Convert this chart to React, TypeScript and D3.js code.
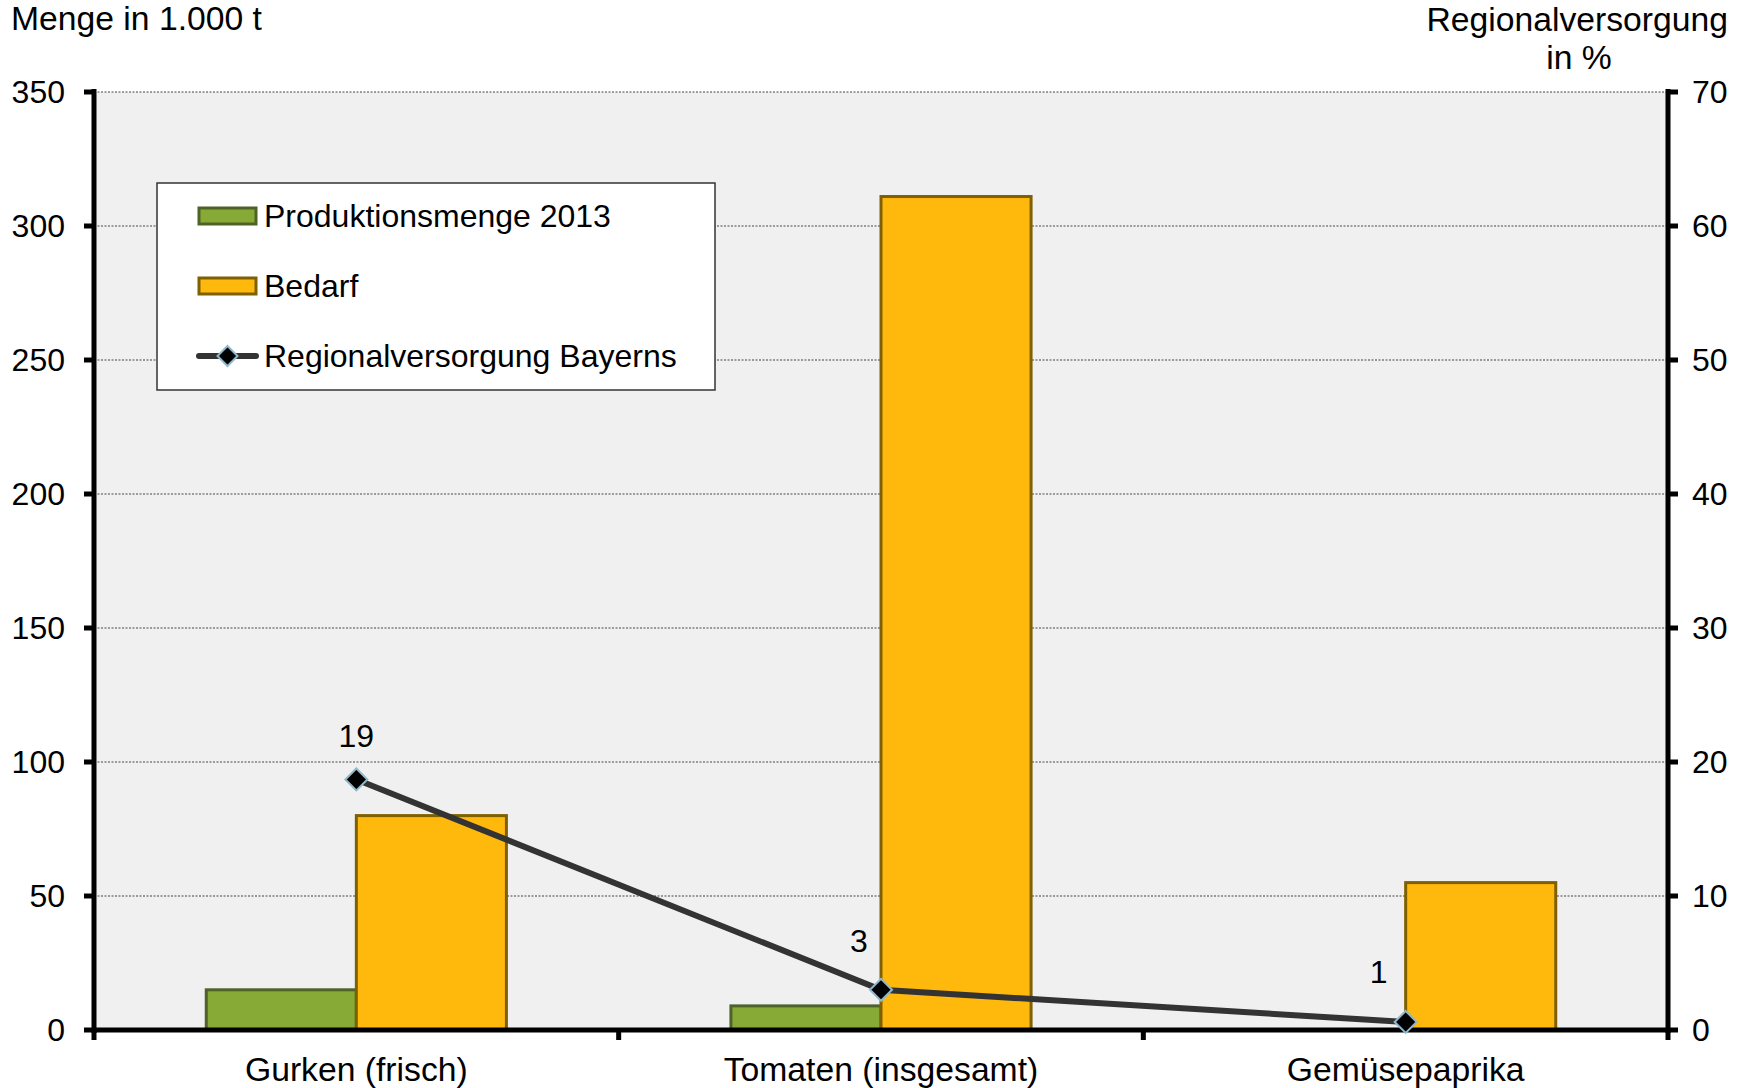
import React from "react";
import * as d3 from "d3";

const categories = ["Gurken (frisch)", "Tomaten (insgesamt)", "Gemüsepaprika"];
const production2013 = [15, 9, 0];
const demand = [80, 311, 55];
const regionalShare = [18.7, 3.0, 0.6];
const leftTicks = [0, 50, 100, 150, 200, 250, 300, 350];
const rightTicks = [0, 10, 20, 30, 40, 50, 60, 70];
const seriesNames = ["Produktionsmenge 2013", "Bedarf", "Regionalversorgung Bayerns"];
const labelOffsets = [[0, -32], [-22, -38], [-27, -39]];

const W = 1746, H = 1088;
const M = { left: 94, right: 1668, top: 92, bottom: 1030 };
const FONT = "'Liberation Sans', Arial, sans-serif";
const GREEN = "#86aa35", GREEN_S = "#4f6228";
const ORANGE = "#ffb80c", ORANGE_S = "#7f6000";

export default function App() {
  const x = d3.scaleBand<string>().domain(categories).range([M.left, M.right]).padding(0);
  const inner = d3.scaleBand<string>().domain(["p", "d"]).range([0, x.bandwidth()]).paddingInner(0).paddingOuter(0.748);
  const yL = d3.scaleLinear().domain([0, 350]).range([M.bottom, M.top]);
  const yR = d3.scaleLinear().domain([0, 70]).range([M.bottom, M.top]);
  const cx = (c: string) => (x(c) as number) + x.bandwidth() / 2;
  const line = d3.line<number>().x((_, i) => cx(categories[i])).y((v) => yR(v));
  const fmt = d3.format(".0f");
  const boundaries = [M.left, ...categories.map((c) => (x(c) as number) + x.bandwidth())];

  const diamond = (px: number, py: number, r: number) =>
    `M${px},${py - r}L${px + r},${py}L${px},${py + r}L${px - r},${py}Z`;

  return (
    <div style={{ position: "fixed", left: 0, top: 0, width: W, height: H, background: "#fff" }}>
      <svg width={W} height={H} style={{ display: "block" }} fontFamily={FONT} fill="#000">
        <rect x={M.left} y={M.top} width={M.right - M.left} height={M.bottom - M.top} fill="#f0f0f0" />
        {leftTicks.slice(1).map((t) => (
          <line key={t} x1={M.left} x2={M.right} y1={yL(t)} y2={yL(t)} stroke="#444" strokeWidth={1} strokeDasharray="2,1.5" />
        ))}
        {categories.map((c, i) => (
          <g key={c}>
            <rect x={(x(c) as number) + (inner("p") as number)} y={yL(production2013[i])} width={inner.bandwidth()}
              height={M.bottom - yL(production2013[i])} fill={GREEN} stroke={GREEN_S} strokeWidth={3}
              visibility={production2013[i] > 0 ? "visible" : "hidden"} />
            <rect x={(x(c) as number) + (inner("d") as number)} y={yL(demand[i])} width={inner.bandwidth()}
              height={M.bottom - yL(demand[i])} fill={ORANGE} stroke={ORANGE_S} strokeWidth={3} />
          </g>
        ))}
        {/* axes */}
        <line x1={M.left} x2={M.left} y1={M.top - 3} y2={M.bottom + 3} stroke="#000" strokeWidth={5} />
        <line x1={M.right} x2={M.right} y1={M.top - 3} y2={M.bottom + 3} stroke="#000" strokeWidth={5} />
        <line x1={M.left} x2={M.right} y1={M.bottom} y2={M.bottom} stroke="#000" strokeWidth={5} />
        {leftTicks.map((t) => (
          <g key={"l" + t}>
            <line x1={M.left - 10} x2={M.left} y1={yL(t)} y2={yL(t)} stroke="#000" strokeWidth={5} />
            <text x={65} y={yL(t) + 11} textAnchor="end" fontSize={32}>{t}</text>
          </g>
        ))}
        {rightTicks.map((t) => (
          <g key={"r" + t}>
            <line x1={M.right} x2={M.right + 10} y1={yR(t)} y2={yR(t)} stroke="#000" strokeWidth={5} />
            <text x={1692} y={yR(t) + 11} textAnchor="start" fontSize={32}>{t}</text>
          </g>
        ))}
        {boundaries.map((b, i) => (
          <line key={"b" + i} x1={b} x2={b} y1={M.bottom} y2={M.bottom + 10} stroke="#000" strokeWidth={5} />
        ))}
        {categories.map((c) => (
          <text key={"c" + c} x={cx(c)} y={1081} textAnchor="middle" fontSize={33.7}>{c}</text>
        ))}
        {/* line */}
        <path d={line(regionalShare) || ""} fill="none" stroke="#333333" strokeWidth={6} />
        {regionalShare.map((v, i) => (
          <g key={"m" + i}>
            <path d={diamond(cx(categories[i]), yR(v), 11)} fill="#000" stroke="#8fb8cc" strokeWidth={2} />
            <text x={cx(categories[i]) + labelOffsets[i][0]} y={yR(v) + labelOffsets[i][1]} textAnchor="middle" fontSize={32}>{fmt(v)}</text>
          </g>
        ))}
        {/* axis titles */}
        <text x={11} y={30} fontSize={33.7}>Menge in 1.000 t</text>
        <text x={1728} y={31} textAnchor="end" fontSize={33.7}>Regionalversorgung</text>
        <text x={1579} y={69} textAnchor="middle" fontSize={33.7}>in %</text>
        {/* legend */}
        <rect x={157} y={183} width={558} height={207} fill="#fff" stroke="#333" strokeWidth={1.5} />
        <rect x={199} y={208} width={57} height={16} fill={GREEN} stroke={GREEN_S} strokeWidth={3} />
        <rect x={199} y={278} width={57} height={16} fill={ORANGE} stroke={ORANGE_S} strokeWidth={3} />
        <line x1={199} x2={256} y1={356} y2={356} stroke="#333333" strokeWidth={6} strokeLinecap="round" />
        <path d={diamond(227.5, 356, 10)} fill="#000" stroke="#8fb8cc" strokeWidth={2} />
        {seriesNames.map((s, i) => (
          <text key={s} x={264} y={227 + i * 70} fontSize={32}>{s}</text>
        ))}
      </svg>
    </div>
  );
}
